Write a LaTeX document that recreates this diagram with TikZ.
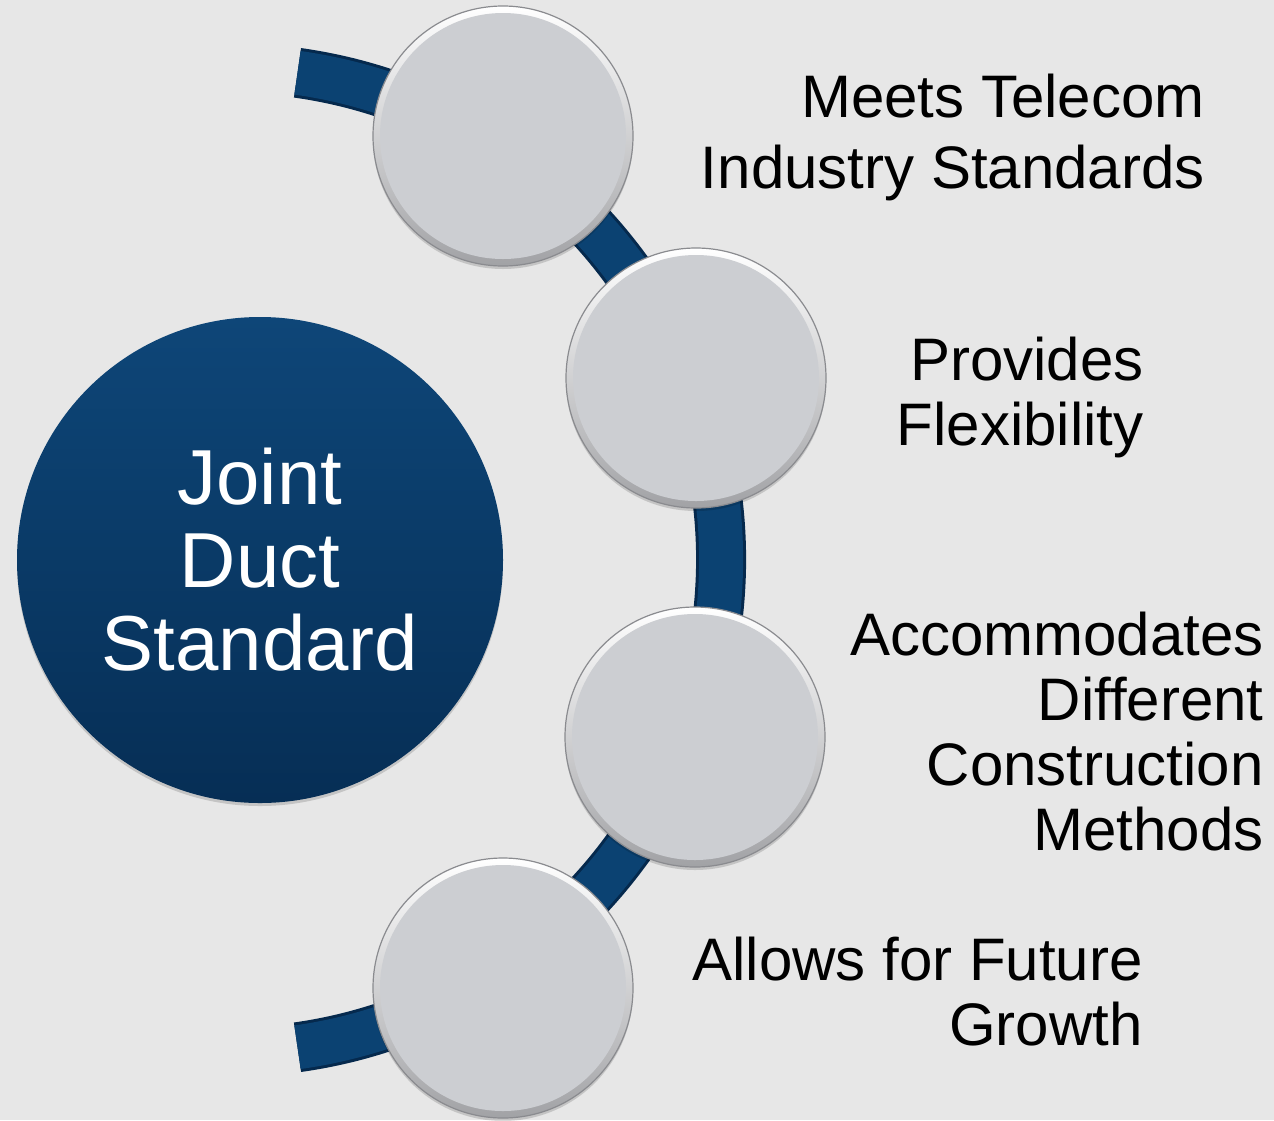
\documentclass[tikz,border=0pt]{standalone}
\usepackage{fontspec}
\setmainfont{Liberation Sans}
\usetikzlibrary{shadows}
\definecolor{bg}{HTML}{E7E7E7}
\definecolor{navytop}{HTML}{0E4678}
\definecolor{navybot}{HTML}{062E55}
\definecolor{ductdark}{HTML}{05294D}
\definecolor{duct}{HTML}{0B4272}
\definecolor{discfill}{HTML}{CCCED2}
\definecolor{discedge}{HTML}{8A8B8F}
\begin{document}
\begin{tikzpicture}[x=0.5pt,y=-0.5pt,
  disc/.style={circle, minimum size=130pt, inner sep=0pt, draw=discedge, line width=0.6pt,
    top color=white, bottom color=discedge!80,
    path picture={\fill[discfill] (path picture bounding box.center) circle (61.5pt);},
    drop shadow={shadow xshift=0pt, shadow yshift=-1.5pt, opacity=0.15, fill=black}},
  hub/.style={circle, minimum size=243pt, inner sep=0pt, top color=navytop, bottom color=navybot,
    text=white, align=center, font=\fontsize{39}{41.5}\selectfont,
    drop shadow={shadow xshift=0pt, shadow yshift=-1.5pt, opacity=0.15, fill=black}},
  ductline/.style={draw=ductdark, line width=1.5pt, double=duct, double distance=22pt, line cap=butt},
  lbl/.style={align=right, inner sep=0pt, anchor=base east, text=black, font=\fontsize{30}{32.5}\selectfont}]
\fill[bg] (0,0) rectangle (1274,1120);
\useasboundingbox (0,0) rectangle (1274,1120);
% duct arc
\coordinate (ductstart) at (297.5,72.8);
\draw[ductline] (ductstart) arc[start angle=-82, end angle=82, radius=492] coordinate (ductend);
% central hub
\node[hub] (hub) at (260,560) {Joint\\Duct\\Standard};
% discs
\node[disc] (d1) at (503,136) {};
\node[disc] (d2) at (696,378) {};
\node[disc] (d3) at (695,737) {};
\node[disc] (d4) at (503,988) {};
% labels (anchored at the baseline of their last line)
\node[lbl, font=\fontsize{30}{35.5}\selectfont] (l1) at (1205,188) {Meets Telecom\\Industry Standards};
\node[lbl] (l2) at (1144,445) {Provides\\Flexibility};
\node[lbl] (l3) at (1264,850) {Accommodates\\Different\\Construction\\Methods};
\node[lbl] (l4) at (1143,1045) {Allows for Future\\Growth};
\end{tikzpicture}
\end{document}
